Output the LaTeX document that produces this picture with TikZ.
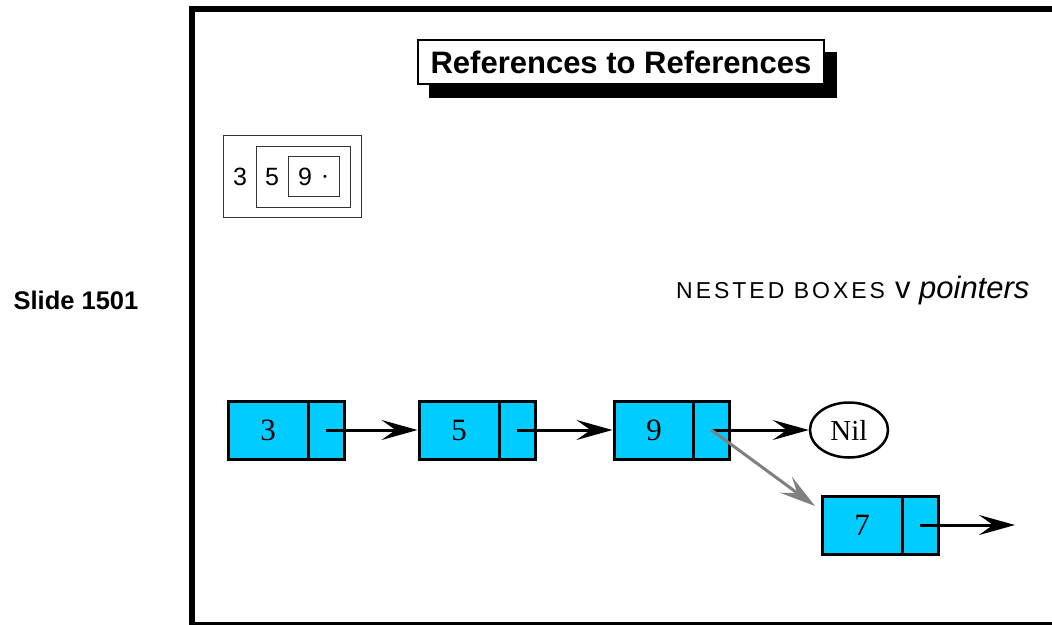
\documentclass[tikz,border=0pt]{standalone}
\usepackage{fontspec}
\setmainfont{Liberation Serif}
\newfontfamily\hv{Liberation Sans}
\usetikzlibrary{arrows.meta,backgrounds,shapes.geometric}
\definecolor{cellcyan}{HTML}{00CCFF}
\begin{document}
\begin{tikzpicture}[x=1pt,y=-1pt,
  datacell/.style={draw=black,fill=cellcyan,line width=3pt,minimum width=80pt,minimum height=58pt,inner sep=0pt,font=\fontsize{31}{31}\selectfont},
  ptrcell/.style={draw=black,fill=cellcyan,line width=3pt,minimum width=36pt,minimum height=58pt,inner sep=0pt},
  link/.style={line width=3pt,-{Stealth[length=36pt,width=20pt,inset=14pt]}},
  nestbox/.style={draw=black!80,line width=1pt},
  sanslabel/.style={font=\hv\fontsize{25}{25}\selectfont,inner sep=0pt}
]
\clip (0,0) rectangle (1052,624);
% outer frame
\draw[line width=6pt] (192,9) rectangle (1070,625);
% slide label
\node[font=\hv\bfseries\fontsize{25.5}{25.5}\selectfont] (slide) at (76,300) {Slide 1501};
% title
\node[draw=black,fill=white,line width=1.5pt,minimum width=406pt,minimum height=44pt,inner sep=0pt,font=\hv\bfseries\fontsize{31}{31}\selectfont] (title) at (621,62) {References to References};
\begin{pgfonlayer}{background}
\fill[white] (0,0) rectangle (1052,624);
\fill[black] ([shift={(12,13)}]title.north west) rectangle ([shift={(12,13)}]title.south east);
\end{pgfonlayer}
% nested boxes
\draw[nestbox] (223,135) rectangle (361,217);
\draw[nestbox] (256,146) rectangle (350,207);
\draw[nestbox] (288,156) rectangle (339,196);
\node[sanslabel] (b3) at (240,177) {3};
\node[sanslabel] (b5) at (272,177) {5};
\node[sanslabel] (b9) at (305,177) {9};
\node[inner sep=0pt,font=\hv\fontsize{11}{11}\selectfont] (bdot) at (325,178) {\textbullet};
% caption
\node[anchor=base west,inner sep=0pt] (cap) at (676,298) {{\hv\fontsize{23}{23}\selectfont\addfontfeature{LetterSpace=13}NESTED BOXES}\hspace{10pt}{\hv\fontsize{31}{31}\selectfont v \itshape pointers}};
% list nodes
\node[datacell] (d3) at (268,430) {3};
\node[ptrcell] (p3) at (326,430) {};
\node[datacell] (d5) at (459,430) {5};
\node[ptrcell] (p5) at (517,430) {};
\node[datacell] (d9) at (654,430) {9};
\node[ptrcell] (p9) at (711.5,430) {};
\node[datacell] (d7) at (862,525) {7};
\node[ptrcell] (p7) at (920,525) {};
\node[draw=black,line width=2.5pt,ellipse,minimum width=78pt,minimum height=55pt,inner sep=0pt,font=\fontsize{29}{29}\selectfont] (nil) at (849,430) {Nil};
\coordinate (g7) at (815,506);
\coordinate (e7) at (1015,525);
\draw[link] (p3.center) -- (d5.west);
\draw[link] (p5.center) -- (d9.west);
\draw[link] (p9.center) -- (nil.west);
\draw[link,draw=black!50,fill=black!50] (p9.center) -- (g7);
\draw[link] (p7.center) -- (e7);
\end{tikzpicture}
\end{document}
